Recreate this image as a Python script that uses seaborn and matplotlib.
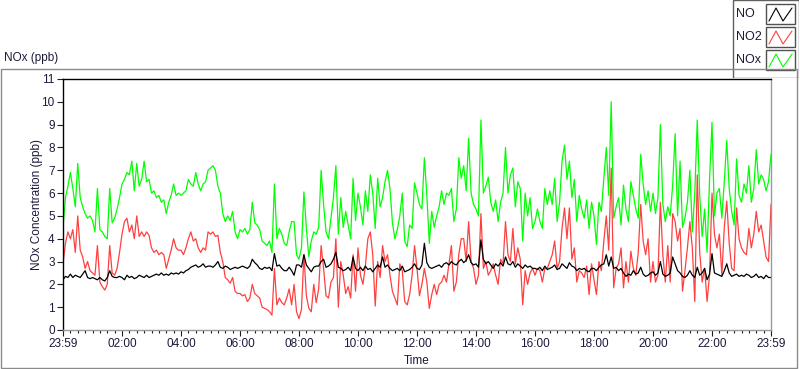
import matplotlib
matplotlib.use('Agg')
import matplotlib.pyplot as plt
import numpy as np
import pandas as pd
import seaborn as sns
from matplotlib.patches import Rectangle

# 5-minute readings, one row per hour, starting 23:59
nox_ppb = [
    4.5, 5.8, 6.3, 6.9, 6.2, 5.4, 7.3, 5.8, 5.4, 5.1, 4.9, 5.0,
    4.8, 4.3, 6.2, 4.4, 4.3, 4.1, 4.0, 6.2, 4.7, 4.9, 5.3, 5.8,
    6.4, 6.6, 6.9, 6.8, 7.4, 6.1, 7.3, 6.3, 6.6, 7.4, 6.5, 6.6,
    6.0, 6.1, 5.8, 5.9, 5.6, 5.7, 5.1, 5.6, 5.9, 6.4, 5.9, 6.0,
    5.9, 6.0, 6.1, 6.6, 6.4, 6.3, 6.9, 6.4, 6.1, 6.4, 6.5, 7.0,
    7.1, 7.2, 7.0, 6.3, 6.0, 5.1, 4.75, 5.0, 4.8, 5.2, 4.3, 4.0,
    4.4, 4.3, 4.45, 4.2, 4.4, 5.6, 4.7, 4.6, 4.4, 3.9, 3.8, 3.7,
    3.9, 3.4, 6.4, 4.0, 4.45, 4.2, 3.8, 3.7, 4.3, 4.75, 4.75, 3.3,
    3.1, 3.6, 6.05, 4.45, 3.2, 3.9, 4.3, 4.2, 4.5, 7.0, 5.5, 4.3,
    4.0, 4.9, 5.8, 7.2, 4.2, 5.8, 4.5, 5.2, 4.6, 4.0, 6.65, 4.8,
    6.0, 5.4, 4.6, 6.1, 5.2, 6.8, 6.0, 4.45, 6.65, 5.4, 5.8, 6.5,
    7.0, 6.2, 4.7, 4.0, 4.4, 5.0, 6.0, 3.9, 3.65, 4.6, 4.45, 6.45,
    6.0, 5.5, 5.3, 7.55, 5.9, 3.8, 5.2, 4.5, 5.0, 5.4, 6.1, 5.5,
    6.0, 5.9, 6.2, 4.75, 5.3, 7.55, 6.65, 7.2, 6.1, 8.4, 6.0, 5.5,
    5.3, 5.0, 9.2, 6.0, 6.3, 6.7, 5.6, 5.2, 5.7, 4.75, 5.6, 6.0,
    8.0, 6.0, 6.8, 7.1, 5.4, 6.5, 6.2, 3.9, 6.0, 5.0, 5.8, 4.45,
    4.75, 5.3, 4.75, 4.45, 6.2, 5.5, 6.1, 5.5, 6.65, 4.75, 5.6, 7.4,
    8.1, 6.6, 7.4, 5.8, 6.6, 4.75, 5.9, 5.3, 4.9, 5.7, 4.45, 5.6,
    5.0, 3.75, 5.6, 5.2, 6.65, 8.0, 5.9, 10.0, 4.9, 5.4, 5.8, 4.6,
    6.35, 5.3, 4.75, 6.5, 5.9, 5.3, 4.9, 7.7, 6.4, 5.5, 6.1, 5.2,
    6.0, 5.1, 5.8, 9.0, 5.5, 4.75, 5.4, 5.0, 6.35, 8.6, 5.0, 7.4,
    4.5, 4.9, 5.6, 7.0, 4.3, 6.0, 9.2, 5.9, 4.1, 5.3, 3.4, 6.6,
    9.1, 5.0, 6.0, 6.2, 4.9, 6.5, 8.3, 6.2, 5.2, 4.6, 7.5, 5.9,
    5.6, 6.4, 6.0, 7.2, 5.6, 6.2, 7.9, 6.4, 6.8, 6.6, 6.1, 6.5,
    7.7]

no2_ppb = [
    2.9, 3.8, 4.3, 4.0, 4.4, 3.4, 5.0, 3.5, 3.2, 2.7, 3.0, 2.6,
    2.5, 2.4, 3.7, 2.1, 1.9, 1.75, 2.0, 3.7, 2.5, 2.4, 2.7, 3.4,
    4.2, 4.75, 4.9, 4.3, 4.6, 4.0, 5.0, 4.1, 4.3, 4.1, 4.3, 4.15,
    3.6, 3.4, 3.5, 3.3, 3.4, 3.3, 2.7, 3.1, 3.5, 4.0, 3.6, 3.5,
    3.5, 3.3, 3.6, 4.0, 4.3, 3.9, 4.0, 3.6, 3.4, 3.6, 3.5, 4.3,
    4.2, 4.3, 4.1, 4.15, 3.4, 3.0, 2.3, 2.2, 2.05, 2.3, 1.7, 1.6,
    1.6, 1.5, 1.55, 1.25, 1.4, 2.0, 1.6, 1.5, 1.4, 1.0, 0.95, 0.9,
    0.8, 0.65, 2.7, 1.1, 1.4, 1.2, 1.1, 1.4, 1.8, 1.1, 2.0, 0.8,
    0.5, 0.9, 3.3, 1.5, 0.95, 0.8, 2.0, 1.2, 1.8, 3.7, 2.7, 1.5,
    1.4, 2.1, 2.3, 4.0, 1.0, 3.0, 2.4, 1.6, 1.9, 1.4, 3.3, 1.7,
    3.6, 2.4, 2.0, 2.8, 4.0, 4.3, 3.3, 1.05, 3.0, 2.3, 3.7, 3.0,
    3.3, 2.4, 1.7, 1.4, 1.1, 2.9, 2.6, 1.25, 1.1, 1.55, 2.4, 3.7,
    2.7, 1.5, 2.0, 2.7, 2.1, 0.95, 1.55, 2.0, 1.55, 2.0, 2.1, 2.4,
    2.1, 2.9, 3.7, 1.7, 2.1, 3.3, 4.0, 4.0, 3.0, 4.75, 3.0, 2.7,
    2.0, 2.4, 5.1, 2.7, 3.0, 2.4, 2.6, 2.9, 2.4, 2.0, 3.1, 2.9,
    4.75, 3.3, 3.0, 4.45, 2.9, 3.6, 3.1, 1.1, 2.6, 2.0, 2.5, 2.7,
    2.4, 2.7, 2.6, 2.1, 2.7, 2.7, 3.0, 3.3, 3.9, 2.7, 3.0, 4.45,
    5.35, 4.0, 5.35, 3.1, 3.6, 2.1, 2.6, 2.5, 2.3, 2.8, 1.55, 2.9,
    2.2, 1.55, 3.0, 2.6, 3.9, 5.0, 3.5, 7.1, 1.85, 2.7, 2.9, 3.6,
    1.85, 3.0, 2.1, 3.45, 2.7, 2.4, 3.4, 5.5, 3.9, 3.3, 4.0, 2.1,
    3.0, 2.1, 2.4, 5.6, 3.3, 2.1, 3.7, 2.1, 5.1, 4.75, 3.9, 4.45,
    1.7, 2.6, 3.6, 4.75, 3.6, 1.25, 6.8, 3.4, 2.1, 2.7, 1.25, 2.4,
    6.0, 4.2, 3.6, 4.2, 2.4, 4.5, 5.65, 3.8, 2.7, 2.6, 5.35, 4.0,
    3.6, 3.4, 3.3, 4.45, 3.6, 4.2, 5.2, 4.3, 4.6, 3.9, 3.2, 3.0,
    5.5]

no_ppb = [
    2.2, 2.35, 2.3, 2.45, 2.3, 2.4, 2.35, 2.3, 2.45, 2.6, 2.3, 2.25,
    2.3, 2.25, 2.2, 2.3, 2.2, 2.15, 2.3, 2.6, 2.35, 2.3, 2.3, 2.35,
    2.3, 2.2, 2.4, 2.3, 2.35, 2.25, 2.3, 2.4, 2.35, 2.3, 2.4, 2.3,
    2.35, 2.4, 2.45, 2.4, 2.5, 2.4, 2.45, 2.4, 2.5, 2.45, 2.5, 2.45,
    2.55, 2.5, 2.6, 2.65, 2.75, 2.8, 2.85, 2.75, 2.8, 2.9, 2.75, 2.8,
    2.8, 2.75, 2.85, 3.0, 2.75, 2.7, 2.8, 2.75, 2.65, 2.7, 2.75, 2.7,
    2.75, 2.8, 2.75, 2.7, 2.8, 3.1, 2.95, 2.85, 2.7, 2.65, 2.75, 2.7,
    2.75, 2.6, 3.35, 2.8, 2.85, 2.7, 2.6, 2.6, 2.75, 2.6, 2.4, 2.85,
    2.85, 2.75, 3.3, 2.85, 2.7, 2.55, 2.75, 2.8, 2.8, 3.0, 3.1, 2.75,
    2.8, 2.9, 3.1, 3.4, 2.75, 2.7, 2.6, 2.65, 2.75, 2.6, 3.2, 2.7,
    2.6, 2.75, 2.6, 2.8, 2.65, 2.7, 2.55, 2.7, 2.85, 2.75, 3.2, 2.75,
    2.85, 2.7, 2.6, 2.65, 2.7, 2.6, 2.8, 2.55, 2.6, 2.65, 2.75, 2.9,
    2.7, 2.65, 2.85, 3.8, 2.95, 2.75, 2.7, 2.75, 2.8, 2.85, 2.75, 2.9,
    2.95, 2.85, 3.0, 2.9, 2.85, 3.0, 3.1, 2.95, 3.05, 3.3, 2.95, 2.85,
    2.9, 2.75, 3.95, 3.1, 2.9, 3.0, 2.85, 2.7, 2.9, 2.8, 2.95, 2.8,
    3.2, 2.9, 2.85, 3.0, 2.75, 2.9, 2.8, 2.7, 2.85, 2.75, 2.8, 2.7,
    2.7, 2.65, 2.75, 2.6, 2.8, 2.65, 2.7, 2.75, 2.85, 2.65, 2.7, 2.9,
    2.8, 2.7, 2.95, 2.8, 2.75, 2.6, 2.7, 2.65, 2.7, 2.6, 2.55, 2.7,
    2.7, 2.6, 2.75, 2.85, 2.9, 3.3, 2.8, 3.2, 2.7, 2.75, 2.6, 2.7,
    2.5, 2.35, 2.45, 2.4, 2.6, 2.45, 2.5, 2.75, 2.45, 2.35, 2.4, 2.5,
    2.55, 2.4, 2.5, 3.0, 2.45, 2.35, 2.4, 2.5, 3.2, 2.9, 2.6, 2.5,
    2.35, 2.3, 2.4, 2.6, 2.4, 2.3, 2.75, 2.4, 2.5, 2.7, 2.2, 2.45,
    3.35, 2.5, 2.45, 2.4, 2.35, 2.6, 2.9, 2.5, 2.35, 2.4, 2.45, 2.35,
    2.4, 2.35, 2.45, 2.4, 2.3, 2.35, 2.45, 2.3, 2.35, 2.25, 2.4, 2.3,
    2.3]

hours_since_start = [m / 60 for m in range(0, 24 * 60 + 1, 5)]

series_names = ['NO', 'NO2', 'NOx']
series_colors = {'NO': '#000000', 'NO2': '#ff4040', 'NOx': '#00ff00'}

tick_hours = [0, 2, 4, 6, 8, 10, 12, 14, 16, 18, 20, 22, 24]
tick_labels = ['23:59', '02:00', '04:00', '06:00', '08:00', '10:00', '12:00',
               '14:00', '16:00', '18:00', '20:00', '22:00', '23:59']

TXT = '#1a1a3a'


def plot_chart():
    sns.set_style('white')
    plt.rcParams['font.family'] = ['Liberation Sans', 'DejaVu Sans']
    plt.rcParams['font.size'] = 8.5

    df = pd.concat([
        pd.DataFrame({'hour': hours_since_start, 'ppb': no_ppb, 'species': 'NO'}),
        pd.DataFrame({'hour': hours_since_start, 'ppb': no2_ppb, 'species': 'NO2'}),
        pd.DataFrame({'hour': hours_since_start, 'ppb': nox_ppb, 'species': 'NOx'}),
    ], ignore_index=True)

    W, H = 800, 369
    fig = plt.figure(figsize=(W / 100, H / 100), dpi=100)

    # outer panel frame
    fig.add_artist(Rectangle((1 / W, 1 / H), 796 / W, (H - 69 - 1) / H,
                             transform=fig.transFigure, fill=False,
                             edgecolor='#8a8a8a', linewidth=1))

    ax = fig.add_axes([63 / W, 1 - 330 / H, 708 / W, 251 / H])

    # draw NOx first, NO on top
    for name in ['NOx', 'NO2', 'NO']:
        sns.lineplot(data=df[df['species'] == name], x='hour', y='ppb',
                     color=series_colors[name], linewidth=0.9,
                     ax=ax, legend=False)

    ax.set_xlim(0, 24)
    ax.set_ylim(0, 11)
    ax.set_xticks(tick_hours)
    ax.set_xticklabels(tick_labels)
    ax.set_xticks(np.arange(0, 24.01, 0.25), minor=True)
    ax.set_yticks(range(0, 12))
    ax.set_xlabel('')
    ax.set_ylabel('')
    ax.tick_params(axis='both', which='major', direction='out', length=4,
                   width=0.8, color='#202020', labelcolor=TXT, pad=2,
                   bottom=True, left=True, labelsize=8.5)
    ax.tick_params(axis='x', which='minor', direction='out', length=2.5,
                   width=0.8, color='#202020', bottom=True)

    ax.spines['top'].set_color('#000000')
    ax.spines['left'].set_color('#000000')
    ax.spines['right'].set_color('#9a9a9a')
    ax.spines['bottom'].set_color('#9a9a9a')
    for s in ax.spines.values():
        s.set_linewidth(1)

    fig.text(4 / W, 1 - 58 / H, 'NOx (ppb)', ha='left', va='center',
             color=TXT, fontsize=8.5)
    fig.text(37 / W, 1 - 204 / H, 'NOx Concentration (ppb)', rotation=90,
             ha='center', va='center', color=TXT, fontsize=8.5)
    fig.text(417 / W, 1 - 361 / H, 'Time', ha='center', va='center',
             color=TXT, fontsize=8.5)

    # legend panel in pixel coordinates
    leg = fig.add_axes([732 / W, 1 - 78 / H, 67 / W, 78 / H])
    leg.set_xlim(0, 67)
    leg.set_ylim(78, 0)
    leg.axis('off')
    leg.add_patch(Rectangle((0.5, 0), 66, 77.5, facecolor='white',
                            edgecolor='#606060', linewidth=1))
    for i, name in enumerate(series_names):
        y0 = 4 + i * 23
        leg.text(4, y0 + 10, name, ha='left', va='center', color=TXT,
                 fontsize=9)
        leg.add_patch(Rectangle((34, y0), 29, 20, facecolor='white',
                                edgecolor='#505050', linewidth=1))
        leg.plot([37, 44, 51, 60], [y0 + 17, y0 + 4, y0 + 17, y0 + 4],
                 color=series_colors[name], linewidth=0.8)

    fig.savefig('out.png', dpi=100)


plot_chart()
